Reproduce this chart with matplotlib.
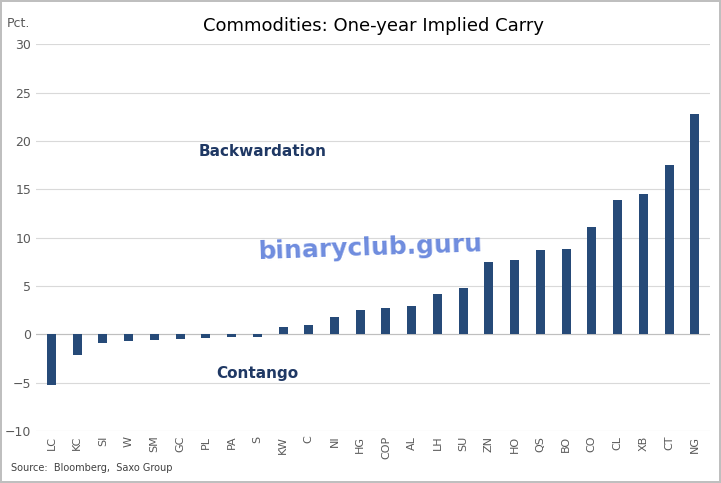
import matplotlib.pyplot as plt

codes = ["LC", "KC", "SI", "W", "SM", "GC", "PL", "PA", "S", "KW", "C", "NI", "HG",
         "COP", "AL", "LH", "SU", "ZN", "HO", "QS", "BO", "CO", "CL", "XB", "CT", "NG"]
carry = [-5.3, -2.1, -0.9, -0.7, -0.6, -0.5, -0.4, -0.3, -0.3, 0.7, 1.0, 1.8, 2.5,
         2.7, 2.9, 4.2, 4.8, 7.5, 7.7, 8.7, 8.8, 11.1, 13.9, 14.5, 17.5, 22.8]

def plot_carry(out_filename="out.png"):
    fig = plt.figure(figsize=(7.21, 4.83), dpi=100)
    fig.patch.set_edgecolor('#bfbfbf')  # thin frame round the figure
    fig.patch.set_linewidth(1.5)
    ax = fig.add_axes([0.05, 0.108, 0.935, 0.8])
    ax.bar(range(len(codes)), carry, width=0.35, color='#264a78', zorder=3)
    ax.set_ylim(-10, 30)
    ax.set_yticks(range(-10, 31, 5))
    ax.set_xlim(-0.6, len(codes) - 0.4)
    ax.set_xticks(range(len(codes)))
    ax.set_xticklabels(codes, rotation=90, fontsize=8, color='#595959')
    ax.tick_params(axis='y', labelsize=9, colors='#595959', length=0)
    ax.tick_params(axis='x', length=0)
    ax.grid(axis='y', color='#d9d9d9', linewidth=0.8, zorder=0)
    for s in ax.spines.values():
        s.set_visible(False)
    ax.axhline(0, color='#bfbfbf', linewidth=0.8, zorder=2)
    ax.set_title("Commodities: One-year Implied Carry", fontsize=13, pad=10)
    fig.text(0.01, 0.945, "Pct.", fontsize=9, color='#595959')
    ax.text(8.2, 18.5, "Backwardation", fontsize=11, fontweight='bold', color='#1f3864', ha='center')
    ax.text(8.0, -4.5, "Contango", fontsize=11, fontweight='bold', color='#1f3864', ha='center')
    ax.text(12.4, 7.8, "binaryclub.guru", fontsize=18, fontweight='bold', color='#4a6fd6',
            alpha=0.8, ha='center', rotation=2, zorder=4)
    fig.text(0.015, 0.025, "Source:  Bloomberg,  Saxo Group", fontsize=7, color='#404040')
    plt.savefig(out_filename)
    plt.close()

if __name__ == "__main__":
    plot_carry("out.png")
